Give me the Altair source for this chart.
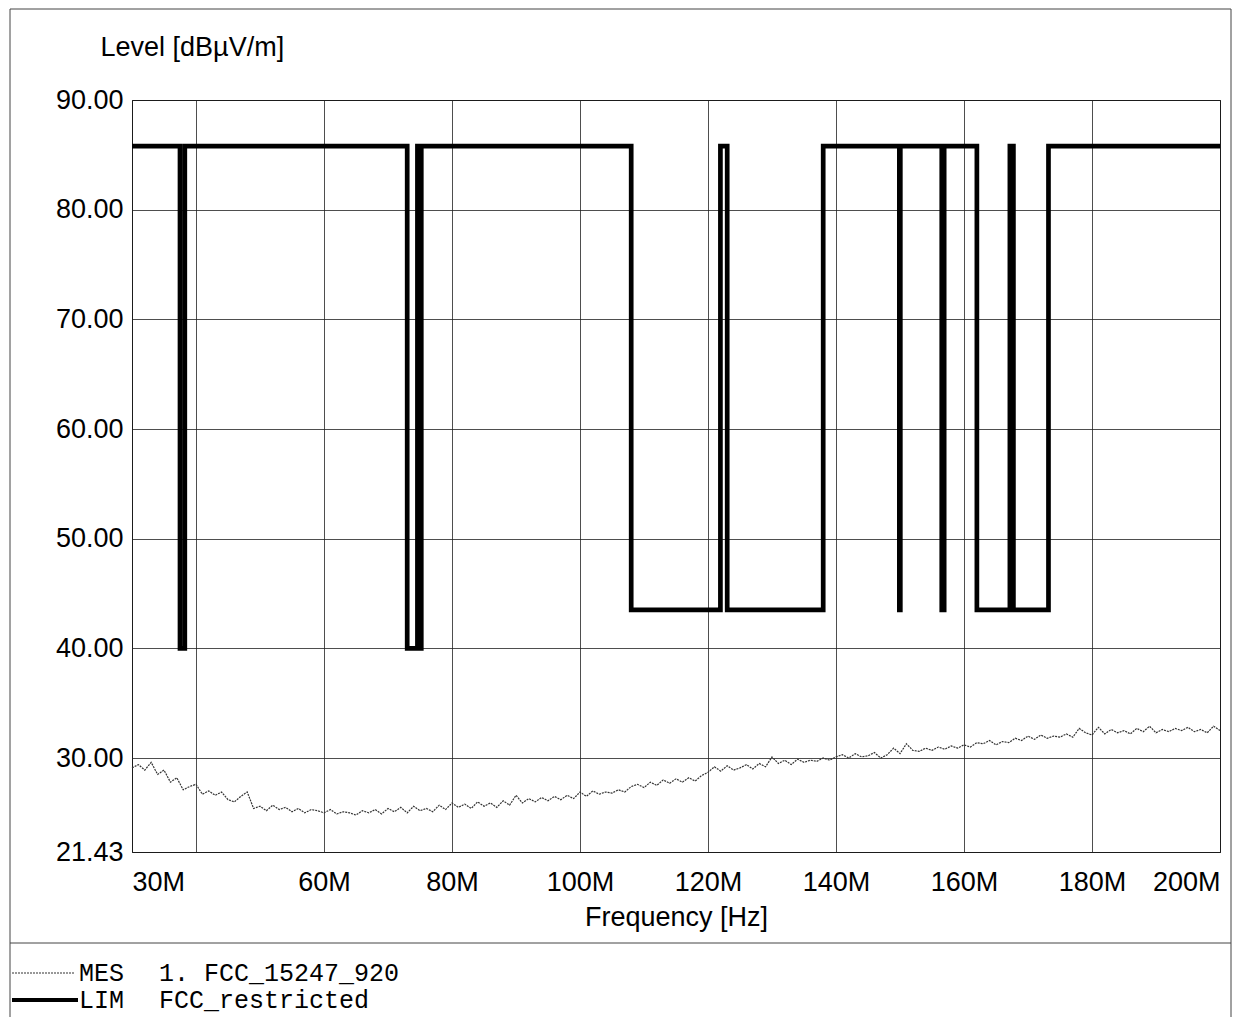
import altair as alt
import pandas as pd

# ---------------- data ----------------
LIM_FREQ = [30, 37.5, 37.5, 38.25, 38.25, 73, 73, 74.6, 74.6, 74.8, 74.8, 75.2, 75.2,
            108, 108, 121.94, 121.94, 123, 123, 138, 138, 149.9, 149.9, 150.05, 150.05,
            156.52475, 156.52475, 156.52525, 156.52525, 156.7, 156.7, 156.9, 156.9,
            162.0125, 162.0125, 167.17, 167.17, 167.72, 167.72, 173.2, 173.2, 200]
LIM_LEVEL = [85.8, 85.8, 40.0, 40.0, 85.8, 85.8, 40.0, 40.0, 85.8, 85.8, 40.0, 40.0, 85.8,
             85.8, 43.5, 43.5, 85.8, 85.8, 43.5, 43.5, 85.8, 85.8, 43.5, 43.5, 85.8,
             85.8, 43.5, 43.5, 85.8, 85.8, 43.5, 43.5, 85.8,
             85.8, 43.5, 43.5, 85.8, 85.8, 43.5, 43.5, 85.8, 85.8]

MES_FREQ = list(range(30, 201))
MES_LEVEL = [
    29.1, 29.4, 28.9, 29.6, 28.5, 28.9, 27.8, 28.2, 27.1, 27.4,   # 30-39
    27.6, 26.7, 27.0, 26.6, 26.9, 26.2, 26.0, 26.5, 26.9, 25.4,   # 40-49
    25.6, 25.2, 25.7, 25.3, 25.5, 25.1, 25.4, 25.0, 25.3, 25.2,   # 50-59
    25.0, 25.3, 24.9, 25.1, 25.0, 24.8, 25.2, 25.0, 25.3, 24.9,   # 60-69
    25.4, 25.1, 25.5, 25.0, 25.6, 25.2, 25.4, 25.1, 25.7, 25.3,   # 70-79
    25.9, 25.5, 25.8, 25.4, 26.0, 25.6, 25.9, 25.5, 26.1, 25.7,   # 80-89
    26.6, 25.9, 26.3, 26.0, 26.4, 26.1, 26.5, 26.2, 26.6, 26.3,   # 90-99
    26.9, 26.5, 27.0, 26.7, 26.9, 26.8, 27.1, 26.9, 27.4, 27.6,   # 100-109
    27.3, 27.8, 27.5, 28.0, 27.7, 28.1, 27.8, 28.2, 27.9, 28.4,   # 110-119
    28.7, 29.2, 28.8, 29.3, 28.9, 29.1, 29.4, 29.0, 29.5, 29.2,   # 120-129
    30.1, 29.5, 29.8, 29.4, 29.9, 29.6, 29.8, 29.7, 30.0, 29.8,   # 130-139
    30.1, 30.3, 30.0, 30.4, 30.1, 30.2, 30.5, 30.0, 30.3, 30.9,   # 140-149
    30.4, 31.3, 30.7, 30.6, 30.9, 30.7, 31.0, 30.8, 31.1, 30.9,   # 150-159
    31.2, 31.0, 31.4, 31.3, 31.6, 31.2, 31.5, 31.4, 31.8, 31.6,   # 160-169
    32.0, 31.7, 32.1, 31.8, 32.0, 31.9, 32.2, 31.9, 32.7, 32.3,   # 170-179
    32.1, 32.8, 32.2, 32.6, 32.3, 32.5, 32.2, 32.7, 32.4, 32.9,   # 180-189
    32.3, 32.6, 32.4, 32.7, 32.5, 32.8, 32.4, 32.6, 32.3, 32.9,   # 190-199
    32.5,                                                         # 200
]

X_TICKS = [30, 40, 60, 80, 100, 120, 140, 160, 180, 200]
Y_TICKS = [21.43, 30, 40, 50, 60, 70, 80, 90]

LEGEND_NAMES = ["MES", "LIM"]
LEGEND_LABELS = ["1. FCC_15247_920", "FCC_restricted"]

# ---------------- tables ----------------
lim_df = pd.DataFrame({"f": LIM_FREQ, "level": LIM_LEVEL, "i": range(len(LIM_FREQ))})
mes_df = pd.DataFrame({"f": MES_FREQ, "level": MES_LEVEL, "i": range(len(MES_FREQ))})
one = pd.DataFrame({"k": [0]})

FONT = "Liberation Sans"
MONO = "Liberation Mono"

W, H = 1088, 752

x_scale = alt.Scale(domain=[30, 200], nice=False, zero=False)
y_scale = alt.Scale(domain=[21.43, 90], nice=False, zero=False)

GRID_COL = "#222222"

x_axis = alt.Axis(
    values=X_TICKS,
    labelExpr="datum.value == 40 ? '' : format(datum.value, 'd') + 'M'",
    labelFlush=True,
    title="Frequency [Hz]",
    titleFont=FONT, titleFontSize=27, titleFontWeight="normal", titleColor="black",
    titleY=65, titleBaseline="middle",
    labelFont=FONT, labelFontSize=27, labelColor="black",
    labelPadding=30, labelBaseline="middle",
    ticks=False, tickSize=0, domain=False,
    grid=True, gridColor=GRID_COL, gridWidth=1, gridOpacity=0.8,
)
y_axis = alt.Axis(
    values=Y_TICKS,
    format=".2f",
    title="Level [dBµV/m]",
    titleFont=FONT, titleFontSize=27, titleFontWeight="normal", titleColor="black",
    titleAngle=0, titleAlign="left", titleBaseline="middle",
    titleX=-32, titleY=-53,
    labelFont=FONT, labelFontSize=27, labelColor="black",
    labelPadding=9,
    ticks=False, tickSize=0, domain=False,
    grid=True, gridColor=GRID_COL, gridWidth=1, gridOpacity=0.8,
)

mes = alt.Chart(mes_df).mark_line(
    color="#333333", strokeWidth=1.2, strokeDash=[2, 1]
).encode(
    x=alt.X("f:Q", scale=x_scale, axis=x_axis),
    y=alt.Y("level:Q", scale=y_scale, axis=y_axis),
    order="i:Q",
)

lim = alt.Chart(lim_df).mark_line(
    color="black", strokeWidth=4.7, strokeJoin="miter"
).encode(
    x=alt.X("f:Q", scale=x_scale),
    y=alt.Y("level:Q", scale=y_scale),
    order="i:Q",
)

# ---------------- frame & legend decorations ----------------
frame_col = "#444444"
top_line = alt.Chart(one).mark_rule(color=frame_col, strokeWidth=1).encode(
    x=alt.value(-122), x2=alt.value(1099), y=alt.value(-91))
left_line = alt.Chart(one).mark_rule(color=frame_col, strokeWidth=1).encode(
    x=alt.value(-122), y=alt.value(-91), y2=alt.value(917))
right_line = alt.Chart(one).mark_rule(color=frame_col, strokeWidth=1).encode(
    x=alt.value(1099), y=alt.value(-91), y2=alt.value(917))
sep_line = alt.Chart(one).mark_rule(color=frame_col, strokeWidth=1).encode(
    x=alt.value(-122), x2=alt.value(1099), y=alt.value(843))

leg_mes_line = alt.Chart(one).mark_rule(color="#333333", strokeWidth=1.2, strokeDash=[2, 1]).encode(
    x=alt.value(-120), x2=alt.value(-57), y=alt.value(873))
leg_lim_line = alt.Chart(one).mark_rule(color="black", strokeWidth=4).encode(
    x=alt.value(-120), x2=alt.value(-54), y=alt.value(900))

def leg_text(txt, x, y):
    return alt.Chart(one).mark_text(
        font=MONO, fontSize=25, color="black", align="left", baseline="middle"
    ).encode(x=alt.value(x), y=alt.value(y), text=alt.value(txt))

legend_layers = [
    leg_text(LEGEND_NAMES[0], -53, 873),
    leg_text(LEGEND_LABELS[0], 27, 873),
    leg_text(LEGEND_NAMES[1], -53, 900),
    leg_text(LEGEND_LABELS[1], 27, 900),
]

chart = alt.layer(
    mes, lim, top_line, left_line, right_line, sep_line,
    leg_mes_line, leg_lim_line, *legend_layers
).properties(
    width=W, height=H,
    autosize=alt.AutoSizeParams(type="none"),
    padding={"left": 124, "top": 92, "right": 12, "bottom": 165},
    background="white",
).configure_view(
    stroke="black", strokeWidth=1
)

chart.save("out.html", embed_options={"renderer": "svg", "actions": False})
